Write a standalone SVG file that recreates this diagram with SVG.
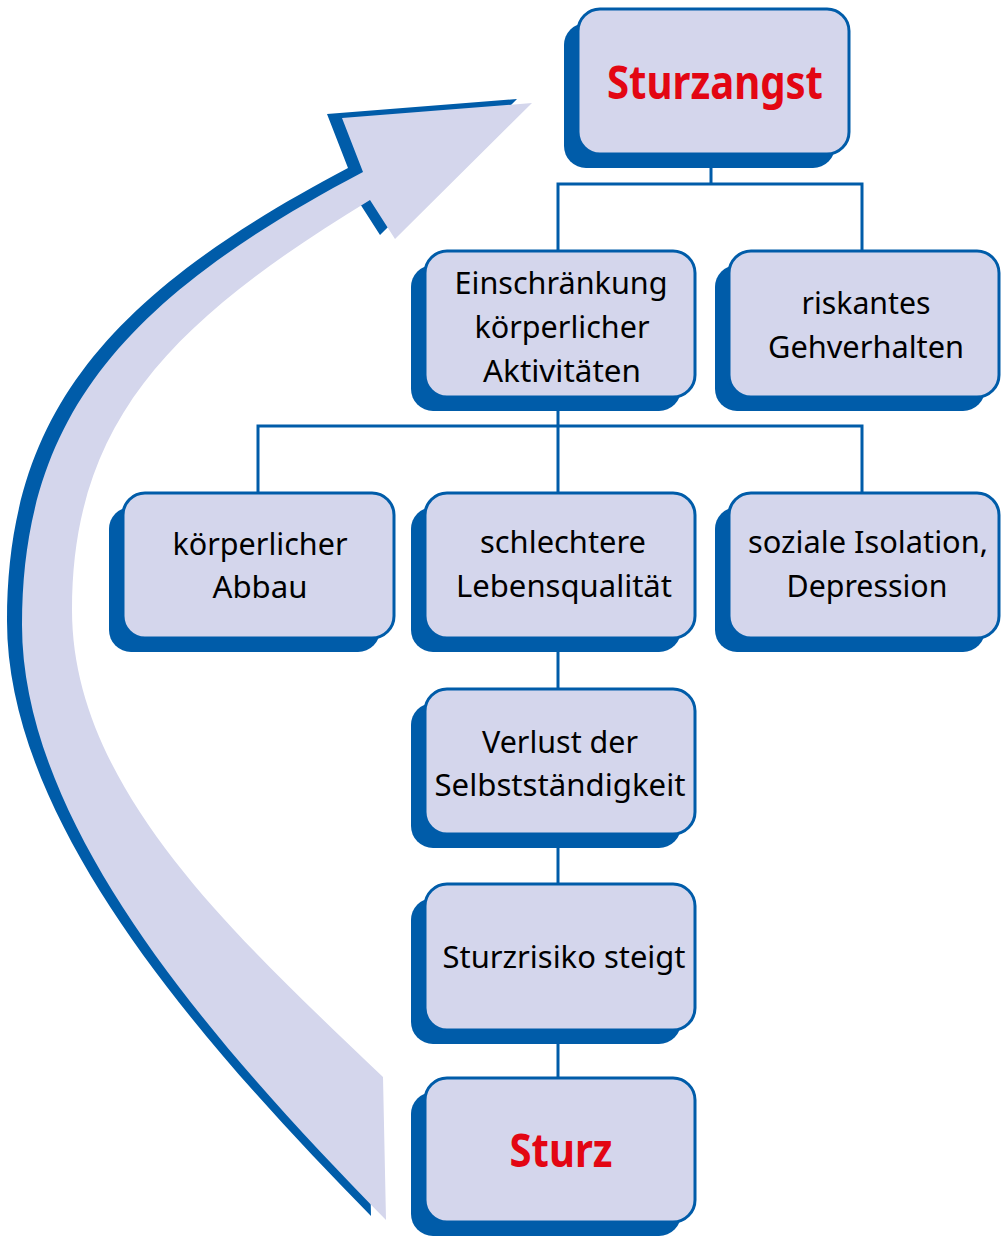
<svg xmlns="http://www.w3.org/2000/svg" width="1008" height="1236" viewBox="0 0 1008 1236">
<style>
.sh{fill:#005CA9}
.bx{fill:#D4D6EC;stroke:#005CA9;stroke-width:3}
.t{font-family:"Noto Sans","Open Sans",sans-serif;font-size:31px;fill:#000;text-anchor:middle}
.r{font-family:"Noto Sans","Open Sans",sans-serif;font-weight:bold;font-size:46px;fill:#E30613;text-anchor:middle}
.cn{fill:none;stroke:#005CA9;stroke-width:3}
</style>
<defs>
<path id="arrowShape" d="M363,172 C120,300 22,420 22,625 C22,825 211,1042 386,1220 L383,1077 C239,939 72,790 72,610 C72,420 173,320 370,200 L395,239 L532,103 L342,118 Z"/>
</defs>
<g id="cycle-arrow">
<use href="#arrowShape" transform="translate(-15,-4)" fill="#005CA9"/>
<use href="#arrowShape" fill="#D4D6EC"/>
</g>
<g id="connectors">
<path class="cn" d="M711,154 V184 M558,251 V184 H862 V251"/>
<path class="cn" d="M558,397 V426 M258,493 V426 H862 V493 M558,426 V493"/>
<path class="cn" d="M558,638 V689"/>
<path class="cn" d="M558,834 V884"/>
<path class="cn" d="M558,1030 V1078"/>
</g>
<g id="n-sturzangst">
<rect class="sh" x="564" y="23" width="271" height="145" rx="22"/>
<rect class="bx" x="578" y="9" width="271" height="145" rx="22"/>
<text class="r" x="715" y="99" textLength="216" lengthAdjust="spacingAndGlyphs">Sturzangst</text>
</g>
<g id="n-einschraenkung">
<rect class="sh" x="411" y="265" width="270" height="146" rx="22"/>
<rect class="bx" x="425" y="251" width="270" height="146" rx="22"/>
<text class="t" x="561" y="294" textLength="213" lengthAdjust="spacingAndGlyphs">Einschränkung</text>
<text class="t" x="562" y="338" textLength="175" lengthAdjust="spacingAndGlyphs">körperlicher</text>
<text class="t" x="562" y="382" textLength="158" lengthAdjust="spacingAndGlyphs">Aktivitäten</text>
</g>
<g id="n-riskantes">
<rect class="sh" x="715" y="265" width="270" height="146" rx="22"/>
<rect class="bx" x="729" y="251" width="270" height="146" rx="22"/>
<text class="t" x="866" y="314" textLength="129" lengthAdjust="spacingAndGlyphs">riskantes</text>
<text class="t" x="866" y="358" textLength="196" lengthAdjust="spacingAndGlyphs">Gehverhalten</text>
</g>
<g id="n-abbau">
<rect class="sh" x="109" y="507" width="271" height="145" rx="22"/>
<rect class="bx" x="123" y="493" width="271" height="145" rx="22"/>
<text class="t" x="260" y="555" textLength="175" lengthAdjust="spacingAndGlyphs">körperlicher</text>
<text class="t" x="260" y="598" textLength="95" lengthAdjust="spacingAndGlyphs">Abbau</text>
</g>
<g id="n-lebensqualitaet">
<rect class="sh" x="411" y="507" width="270" height="145" rx="22"/>
<rect class="bx" x="425" y="493" width="270" height="145" rx="22"/>
<text class="t" x="563" y="553" textLength="166" lengthAdjust="spacingAndGlyphs">schlechtere</text>
<text class="t" x="564" y="597" textLength="216" lengthAdjust="spacingAndGlyphs">Lebensqualität</text>
</g>
<g id="n-isolation">
<rect class="sh" x="715" y="507" width="270" height="145" rx="22"/>
<rect class="bx" x="729" y="493" width="270" height="145" rx="22"/>
<text class="t" x="868" y="553" textLength="240" lengthAdjust="spacingAndGlyphs">soziale Isolation,</text>
<text class="t" x="867" y="597" textLength="161" lengthAdjust="spacingAndGlyphs">Depression</text>
</g>
<g id="n-selbststaendigkeit">
<rect class="sh" x="411" y="703" width="270" height="145" rx="22"/>
<rect class="bx" x="425" y="689" width="270" height="145" rx="22"/>
<text class="t" x="560" y="753" textLength="156" lengthAdjust="spacingAndGlyphs">Verlust der</text>
<text class="t" x="560" y="796" textLength="251" lengthAdjust="spacingAndGlyphs">Selbstständigkeit</text>
</g>
<g id="n-sturzrisiko">
<rect class="sh" x="411" y="898" width="270" height="146" rx="22"/>
<rect class="bx" x="425" y="884" width="270" height="146" rx="22"/>
<text class="t" x="564" y="968" textLength="243" lengthAdjust="spacingAndGlyphs">Sturzrisiko steigt</text>
</g>
<g id="n-sturz">
<rect class="sh" x="411" y="1092" width="270" height="144" rx="22"/>
<rect class="bx" x="425" y="1078" width="270" height="144" rx="22"/>
<text class="r" x="561" y="1167" textLength="103" lengthAdjust="spacingAndGlyphs">Sturz</text>
</g>
</svg>
